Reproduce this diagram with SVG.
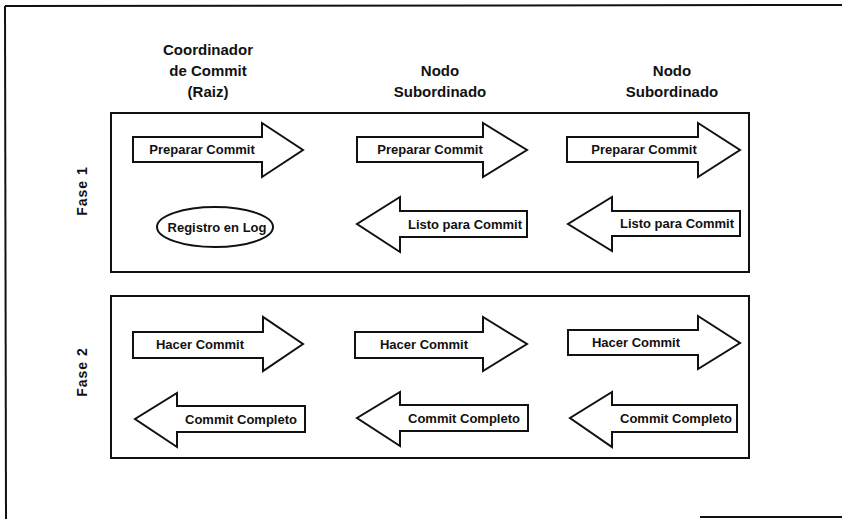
<svg xmlns="http://www.w3.org/2000/svg" width="842" height="519" viewBox="0 0 842 519">
<style>
  .frame { fill: none; stroke: #111; stroke-width: 2; }
  .arrow { fill: #fff; stroke: #111; stroke-width: 2; stroke-linejoin: miter; }
  .lbl { font-family: "Liberation Sans", Arial, sans-serif; font-weight: bold; font-size: 13px; fill: #111; text-anchor: middle; }
  .hdr { font-family: "Liberation Sans", Arial, sans-serif; font-weight: bold; font-size: 15px; fill: #111; text-anchor: middle; }
  .phase { font-family: "Liberation Sans", Arial, sans-serif; font-weight: bold; font-size: 14px; fill: #111; text-anchor: middle; letter-spacing: 1px; }
</style>
<rect width="842" height="519" fill="#fff"/>
<g id="border">
  <line class="frame" x1="5" y1="6" x2="842" y2="5"/>
  <line class="frame" x1="5" y1="6" x2="6" y2="519"/>
  <line class="frame" x1="700" y1="517" x2="842" y2="517"/>
</g>
<g id="headers">
  <text class="hdr" x="208" y="55">Coordinador</text>
  <text class="hdr" x="208" y="76">de Commit</text>
  <text class="hdr" x="208" y="97">(Raiz)</text>
  <text class="hdr" x="440" y="76">Nodo</text>
  <text class="hdr" x="440" y="97">Subordinado</text>
  <text class="hdr" x="672" y="76">Nodo</text>
  <text class="hdr" x="672" y="97">Subordinado</text>
</g>
<g id="fase1">
  <rect class="frame" x="111" y="113" width="638" height="159"/>
  <text class="phase" transform="translate(87,191) rotate(-90)">Fase 1</text>
</g>
<g id="fase2">
  <rect class="frame" x="111" y="296" width="638" height="162"/>
  <text class="phase" transform="translate(87,372) rotate(-90)">Fase 2</text>
</g>
<g id="connectors">
  <g id="p1-prep-1">
    <path class="arrow" d="M133,137 H262 V123 L303,150 L262,177 V162 H133 Z"/>
    <text class="lbl" x="202" y="154">Preparar Commit</text>
  </g>
  <g id="p1-prep-2">
    <path class="arrow" d="M357,137 H483 V123 L527,150 L483,177 V162 H357 Z"/>
    <text class="lbl" x="430" y="154">Preparar Commit</text>
  </g>
  <g id="p1-prep-3">
    <path class="arrow" d="M567,137 H698 V123 L740,150 L698,177 V162 H567 Z"/>
    <text class="lbl" x="644" y="154">Preparar Commit</text>
  </g>
  <g id="p1-listo-2">
    <path class="arrow" d="M527,211 H400 V197 L357,224 L400,252 V237 H527 Z"/>
    <text class="lbl" x="465" y="229">Listo para Commit</text>
  </g>
  <g id="p1-listo-3">
    <path class="arrow" d="M740,211 H612 V197 L568,224 L612,251 V236 H740 Z"/>
    <text class="lbl" x="677" y="228">Listo para Commit</text>
  </g>
  <g id="p2-hacer-1">
    <path class="arrow" d="M133,332 H263 V317 L303,344 L263,371 V358 H133 Z"/>
    <text class="lbl" x="200" y="349">Hacer Commit</text>
  </g>
  <g id="p2-hacer-2">
    <path class="arrow" d="M355,332 H483 V317 L527,344 L483,371 V358 H355 Z"/>
    <text class="lbl" x="424" y="349">Hacer Commit</text>
  </g>
  <g id="p2-hacer-3">
    <path class="arrow" d="M568,330 H698 V316 L740,343 L698,369 V355 H568 Z"/>
    <text class="lbl" x="636" y="347">Hacer Commit</text>
  </g>
  <g id="p2-comp-1">
    <path class="arrow" d="M305,406 H177 V393 L135,419 L177,447 V432 H305 Z"/>
    <text class="lbl" x="241" y="424">Commit Completo</text>
  </g>
  <g id="p2-comp-2">
    <path class="arrow" d="M528,405 H400 V392 L357,418 L400,446 V431 H528 Z"/>
    <text class="lbl" x="464" y="423">Commit Completo</text>
  </g>
  <g id="p2-comp-3">
    <path class="arrow" d="M737,405 H612 V392 L570,418 L612,447 V432 H737 Z"/>
    <text class="lbl" x="676" y="423">Commit Completo</text>
  </g>
</g>
<g id="registro">
  <ellipse class="arrow" cx="215" cy="227" rx="58" ry="20"/>
  <text class="lbl" x="217" y="232">Registro en Log</text>
</g>
</svg>
